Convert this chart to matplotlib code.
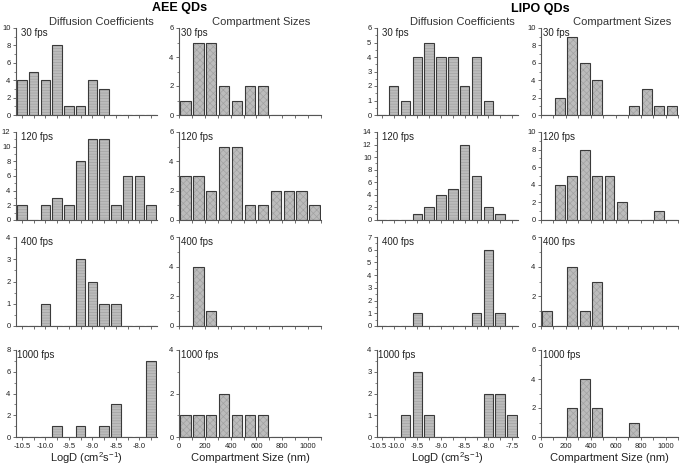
import matplotlib
matplotlib.use("Agg")
import matplotlib.pyplot as plt
import matplotlib.transforms as mtransforms
import numpy as np

plt.rcParams['font.family'] = ['Liberation Sans', 'DejaVu Sans']
plt.rcParams['mathtext.fontset'] = 'custom'
plt.rcParams['mathtext.rm'] = 'Liberation Sans'
plt.rcParams['mathtext.it'] = 'Liberation Sans'
plt.rcParams['hatch.linewidth'] = 0.5

# ---- data (counts per bin) ----
fps_labels = ['30 fps', '120 fps', '400 fps', '1000 fps']

# AEE diffusion: bins centred at -10.5 ... -7.75 (step 0.25)
aee_logd_bins = [-10.5, -10.25, -10.0, -9.75, -9.5, -9.25, -9.0, -8.75, -8.5, -8.25, -8.0, -7.75]
aee_logd_30 = [4, 5, 4, 8, 1, 1, 4, 3, 0, 0, 0, 0]
aee_logd_120 = [2, 0, 2, 3, 2, 8, 11, 11, 2, 6, 6, 2]
aee_logd_400 = [0, 0, 1, 0, 0, 3, 2, 1, 1, 0, 0, 0]
aee_logd_1000 = [0, 0, 0, 1, 0, 1, 0, 1, 3, 0, 0, 7]

# LIPO diffusion: bins centred at -10.25 ... -7.5
lipo_logd_bins = [-10.25, -10.0, -9.75, -9.5, -9.25, -9.0, -8.75, -8.5, -8.25, -8.0, -7.75, -7.5]
lipo_logd_30 = [0, 2, 1, 4, 5, 4, 4, 2, 4, 1, 0, 0]
lipo_logd_120 = [0, 0, 0, 1, 2, 4, 5, 12, 7, 2, 1, 0]
lipo_logd_400 = [0, 0, 0, 1, 0, 0, 0, 0, 1, 6, 1, 0]
lipo_logd_1000 = [0, 0, 1, 3, 1, 0, 0, 0, 0, 2, 2, 1]

# compartment sizes: bins centred at 50 ... 1050 nm
size_bins = [50, 150, 250, 350, 450, 550, 650, 750, 850, 950, 1050]
aee_size_30 = [1, 5, 5, 2, 1, 2, 2, 0, 0, 0, 0]
aee_size_120 = [3, 3, 2, 5, 5, 1, 1, 2, 2, 2, 1]
aee_size_400 = [0, 4, 1, 0, 0, 0, 0, 0, 0, 0, 0]
aee_size_1000 = [1, 1, 1, 2, 1, 1, 1, 0, 0, 0, 0]
lipo_size_30 = [0, 2, 9, 6, 4, 0, 0, 1, 3, 1, 1]
lipo_size_120 = [0, 4, 5, 8, 5, 5, 2, 0, 0, 1, 0]
lipo_size_400 = [1, 0, 4, 1, 3, 0, 0, 0, 0, 0, 0]
lipo_size_1000 = [0, 0, 2, 4, 2, 0, 0, 1, 0, 0, 0]

aee_logd_ymax = [10, 12, 4, 8]
aee_logd_ystep = [2, 2, 1, 2]
aee_size_ymax = [6, 6, 6, 4]
lipo_logd_ymax = [6, 14, 7, 4]
lipo_logd_ystep = [1, 2, 1, 1]
lipo_size_ymax = [10, 10, 6, 6]
lipo_size_ystep = [2, 2, 2, 2]

W, H = 684, 468
fig = plt.figure(figsize=(W / 100, H / 100), dpi=100)

row_top = [28, 132, 237, 350]
row_bot = [115, 220, 326, 437]
col_left = [16, 179, 377, 541]
col_right = [157, 321, 518, 678]

FACE = '#bcbcbc'
HATCHC = '#a2a2a2'
EDGE = '#3a3a3a'


def make_ax(r, c):
    x0 = col_left[c] / W
    y0 = 1 - row_bot[r] / H
    return fig.add_axes([x0, y0, (col_right[c] - col_left[c]) / W,
                         (row_bot[r] - row_top[r]) / H])


def draw(ax, bins, counts, width, hatch, ymax, ystep, xlim, xticks, xlabels, show_labels, label, lab_dx):
    ax.bar(bins, counts, width=width, color=FACE, edgecolor=HATCHC, hatch=hatch, linewidth=0)
    ax.bar(bins, counts, width=width, fill=False, edgecolor=EDGE, linewidth=0.8)
    ax.set_xlim(*xlim)
    ax.set_ylim(0, ymax)
    for s in ['top', 'right']:
        ax.spines[s].set_visible(False)
    for s in ['left', 'bottom']:
        ax.spines[s].set_color('#555555')
        ax.spines[s].set_linewidth(0.8)
    ax.set_yticks(np.arange(0, ymax + 0.01, ystep))
    ax.set_yticks(np.arange(0, ymax + 0.01, ystep / 2), minor=True)
    ax.set_xticks(xticks)
    if show_labels:
        ax.set_xticklabels(xlabels)
    else:
        ax.set_xticklabels([])
    ax.tick_params(axis='both', which='major', labelsize=5.5, length=2.5, width=0.6,
                   color='#555555', labelcolor='#222222', pad=1.5)
    ax.tick_params(axis='y', which='minor', length=1.5, width=0.5, color='#555555')
    ax.tick_params(axis='x', which='minor', length=0)
    ax.text(lab_dx / (col_right[0] - col_left[0]), 0.94, label, transform=ax.transAxes,
            fontsize=7, ha='left', va='center', color='#222222')


aee_logd = [aee_logd_30, aee_logd_120, aee_logd_400, aee_logd_1000]
lipo_logd = [lipo_logd_30, lipo_logd_120, lipo_logd_400, lipo_logd_1000]
aee_size = [aee_size_30, aee_size_120, aee_size_400, aee_size_1000]
lipo_size = [lipo_size_30, lipo_size_120, lipo_size_400, lipo_size_1000]

aee_xlabels = ['-10.5', '', '-10.0', '', '-9.5', '', '-9.0', '', '-8.5', '', '-8.0', '']
lipo_xlabels = ['-10.5', '-10.0', '', '-9.5', '', '-9.0', '', '-8.5', '', '-8.0', '', '-7.5']
size_ticks = list(range(0, 1101, 100))
size_labels = [str(v) if v % 200 == 0 else '' for v in size_ticks]

for r in range(4):
    bottom = (r == 3)
    dx_d = 1 if bottom else 5
    ax = make_ax(r, 0)
    draw(ax, aee_logd_bins, aee_logd[r], 0.2, '------', aee_logd_ymax[r], aee_logd_ystep[r],
         (-10.625, -7.625), aee_logd_bins, aee_xlabels, bottom, fps_labels[r], dx_d)
    ax = make_ax(r, 1)
    draw(ax, size_bins, aee_size[r], 80, 'xxxxx', aee_size_ymax[r], 2,
         (0, 1100), size_ticks, size_labels, bottom, fps_labels[r], 2)
    ax = make_ax(r, 2)
    draw(ax, lipo_logd_bins, lipo_logd[r], 0.2, '------', lipo_logd_ymax[r], lipo_logd_ystep[r],
         (-10.35, -7.375), lipo_logd_bins, lipo_xlabels, bottom, fps_labels[r], dx_d)
    if bottom:
        # the two crowded labels at the left end are pushed apart slightly
        lbls = ax.get_xticklabels()
        lbls[0].set_transform(lbls[0].get_transform() +
                              mtransforms.ScaledTranslation(-3 / 100, 0, fig.dpi_scale_trans))
        lbls[1].set_transform(lbls[1].get_transform() +
                              mtransforms.ScaledTranslation(3 / 100, 0, fig.dpi_scale_trans))
    ax = make_ax(r, 3)
    draw(ax, size_bins, lipo_size[r], 80, 'xxxxx', lipo_size_ymax[r], lipo_size_ystep[r],
         (0, 1100), size_ticks, size_labels, bottom, fps_labels[r], 2)
    if bottom:
        for c, txt in enumerate(['LogD (cm$^{2}$s$^{-1}$)', 'Compartment Size (nm)',
                                 'LogD (cm$^{2}$s$^{-1}$)', 'Compartment Size (nm)']):
            xc = (col_left[c] + col_right[c]) / 2 / W
            fig.text(xc, 1 - 458 / H, txt, ha='center', va='center', fontsize=8, color='#222222')

# column headings
for xc, txt in [(101, 'Diffusion Coefficients'), (261, 'Compartment Sizes'),
                (462, 'Diffusion Coefficients'), (622, 'Compartment Sizes')]:
    fig.text(xc / W, 1 - 22 / H, txt, ha='center', va='center', fontsize=8, color='#333333')

fig.text(180 / W, 1 - 8 / H, 'AEE QDs', ha='center', va='center', fontsize=9, fontweight='bold')
fig.text(540 / W, 1 - 9 / H, 'LIPO QDs', ha='center', va='center', fontsize=9, fontweight='bold')

fig.savefig('out.png', dpi=100)
